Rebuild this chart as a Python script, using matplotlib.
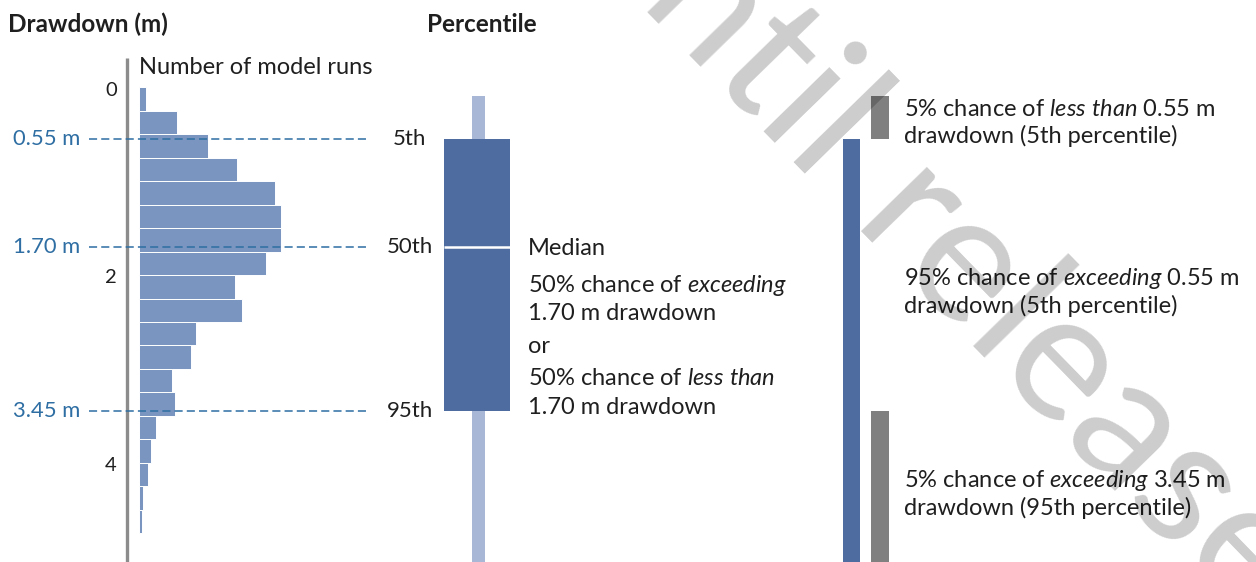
import matplotlib
matplotlib.use("Agg")
import matplotlib.pyplot as plt

# ---------------- data ----------------
bin_edges = [0.0, 0.25, 0.5, 0.75, 1.0, 1.25, 1.5, 1.75, 2.0, 2.25, 2.5,
             2.75, 3.0, 3.25, 3.5, 3.75, 4.0, 4.25, 4.5, 4.75]
run_counts = [7, 38, 69, 98, 136, 142, 142, 127, 96, 103, 57, 52, 33, 36,
              17, 12, 9, 4, 3]
drawdown_min = 0.09
drawdown_max = 5.3
p5, p50, p95 = 0.55, 1.70, 3.45
percentile_values = [p5, p50, p95]
percentile_labels = ["5th", "50th", "95th"]
depth_ticks = [0, 2, 4]

# ---------------- style ----------------
W, H = 1256, 562
PX_TOP = 87.5        # pixel row of 0 m
PX_PER_M = 93.8
Y_TOP = -PX_TOP / PX_PER_M
Y_BOT = (H - PX_TOP) / PX_PER_M

FONT = "Lato"
plt.rcParams["font.family"] = [FONT, "DejaVu Sans"]
plt.rcParams["mathtext.fontset"] = "custom"
plt.rcParams["mathtext.rm"] = FONT
plt.rcParams["mathtext.it"] = FONT + ":italic"
plt.rcParams["mathtext.bf"] = FONT + ":bold"

TXT = "#1f1f1f"
BLUE_LINE = "#2e6ea3"
HIST_C = "#7a95c0"
BOX_C = "#4e6ca0"
WHISK_C = "#a9b7d6"
GREY_C = "#808080"
BODY = 17.0

fig = plt.figure(figsize=(W / 100, H / 100), dpi=100)

# histogram axes: x in number of model runs, y in drawdown (m)
axh = fig.add_axes([138.5 / W, 0, 160 / W, 1])
axh.set_xlim(0, 160)
axh.set_ylim(Y_BOT, Y_TOP)
axh.axis("off")
centers = [(a + b) / 2 for a, b in zip(bin_edges[:-1], bin_edges[1:])]
heights = [b - a for a, b in zip(bin_edges[:-1], bin_edges[1:])]
axh.barh(centers, run_counts, height=heights, left=0, color=HIST_C,
         edgecolor="white", linewidth=0.7)

# main overlay axes: x in layout pixels, y in drawdown (m)
ax = fig.add_axes([0, 0, 1, 1])
ax.patch.set_visible(False)
ax.set_xlim(0, W)
ax.set_ylim(Y_BOT, Y_TOP)
ax.axis("off")

# vertical axis line
ax.plot([127, 127], [(58 - PX_TOP) / PX_PER_M, Y_BOT], color="#8c8c8c",
        lw=2.4, solid_capstyle="butt")

# depth tick labels
for t in depth_ticks:
    ax.text(117, t + 0.03, str(t), ha="right", va="center", fontsize=14.5,
            color=TXT)

# percentile dashed lines and labels
ax.hlines(percentile_values, 89, 369, colors=BLUE_LINE,
          linestyles=(0, (5.3, 2.7)), lw=1.1, zorder=5)
for v, lab in zip(percentile_values, percentile_labels):
    ax.text(80, v, f"{v:.2f} m", ha="right", va="center", fontsize=15.8,
            color=BLUE_LINE)
    ax.text(409.5, v, lab, ha="center", va="center", fontsize=16,
            color=TXT)

# box and whisker
ax.bar(478.2, drawdown_max - drawdown_min, bottom=drawdown_min, width=13,
       color=WHISK_C, zorder=2)
ax.bar(477.2, p95 - p5, bottom=p5, width=66, color=BOX_C, zorder=3)
ax.hlines(p50, 444.2, 510.2, colors="white", lw=1.8, zorder=4)

# right-hand probability bars
ax.bar(851.5, drawdown_max - p5, bottom=p5, width=17.5, color=BOX_C)
ax.bar(880, p5 - drawdown_min, bottom=drawdown_min, width=17.5,
       color=GREY_C)
ax.bar(880, drawdown_max - p95, bottom=p95, width=17.5, color=GREY_C)


def ftext(x, y, s, **kw):
    kw.setdefault("color", TXT)
    kw.setdefault("fontsize", BODY)
    kw.setdefault("va", "baseline")
    kw.setdefault("ha", "left")
    return fig.text(x / W, 1 - y / H, s, **kw)


ftext(8, 32, "Drawdown (m)", fontsize=17.5, fontweight="bold")
ftext(427, 32, "Percentile", fontsize=17.5, fontweight="bold")
ftext(139, 74, "Number of model runs")

ftext(528, 255, "Median")
ftext(528, 292, r"50% chance of $\mathit{exceeding}$")
ftext(528, 320, "1.70 m drawdown")
ftext(528, 353, "or")
ftext(528, 385, r"50% chance of $\mathit{less\ than}$")
ftext(528, 414, "1.70 m drawdown")

ftext(904, 116, r"5% chance of $\mathit{less\ than}$ 0.55 m")
ftext(904, 143, "drawdown (5th percentile)")
ftext(904, 285, r"95% chance of $\mathit{exceeding}$ 0.55 m")
ftext(904, 313, "drawdown (5th percentile)")
ftext(904, 487, r"5% chance of $\mathit{exceeding}$ 3.45 m")
ftext(904, 515, "drawdown (95th percentile)")

# watermark (two words on one rotated baseline)
WM = dict(fontsize=130, color="black", alpha=0.2, rotation=-45.7,
          rotation_mode="anchor", va="baseline", zorder=10)
ftext(810, 191, "until", ha="right", **WM)
ftext(847, 230, "release", ha="left", **WM)

fig.savefig("out.png", dpi=100)
